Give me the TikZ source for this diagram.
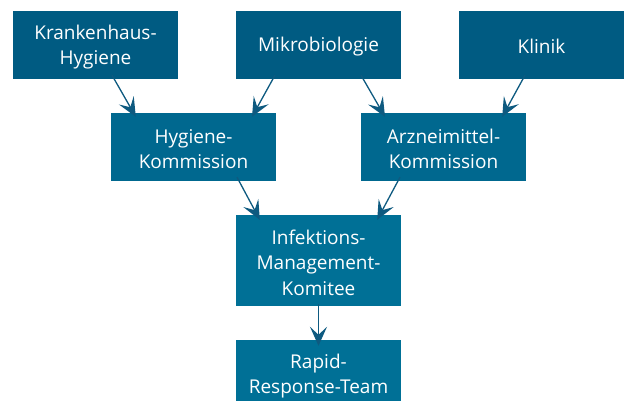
\documentclass[tikz,border=0pt]{standalone}
\usepackage{fontspec}
\setmainfont{Open Sans}
\usetikzlibrary{arrows.meta,calc}
\definecolor{boxA}{HTML}{005B82}
\definecolor{boxB}{HTML}{00688F}
\definecolor{boxC}{HTML}{007096}
\definecolor{arrc}{HTML}{0E5A80}
\begin{document}
\begin{tikzpicture}[x=1pt,y=-1pt,
  box/.style={rectangle, minimum width=165pt, minimum height=68pt, inner sep=0pt},
  txt/.style={text=white, align=center, inner sep=0pt, font=\fontsize{19}{25.5}\selectfont},
  arr/.style={draw=arrc, line width=1.3pt,
    -{Stealth[length=19pt,width=17pt,inset=8pt]}}]
\useasboundingbox (0,0) rectangle (627,401);
\begin{scope}
\clip (0,0) rectangle (627,401);
\node[box, fill=boxA] (kh) at (95.5,45) {};
\node[box, fill=boxA] (mb) at (318.5,45) {};
\node[box, fill=boxA] (kl) at (541.5,45) {};
\node[box, fill=boxB] (hk) at (193.5,147) {};
\node[box, fill=boxB] (ak) at (443.5,147) {};
\node[box, fill=boxC, minimum height=91pt] (imk) at (318.5,260.5) {};
\node[box, fill=boxC] (rrt) at (318.5,374) {};
\node[txt] (khT) at ([yshift=-2pt]kh.center) {Krankenhaus-\\Hygiene};
\node[txt] (mbT) at ([yshift=-1.5pt]mb.center) {Mikrobiologie};
\node[txt] (klT) at ([yshift=-1.5pt]kl.center) {Klinik};
\node[txt] (hkT) at ([yshift=-2pt]hk.center) {Hygiene-\\Kommission};
\node[txt] (akT) at ([yshift=-2pt]ak.center) {Arzneimittel-\\Kommission};
\node[txt] (imkT) at ([yshift=-2pt]imk.center) {Infektions-\\Management-\\Komitee};
\node[txt] (rrtT) at ([yshift=-2pt]rrt.center) {Rapid-\\Response-Team};
\end{scope}
\draw[arr] ([xshift=16.5pt,yshift=4pt]kh.south) -- ([xshift=25pt,yshift=-4pt]hk.north west);
\draw[arr] ([xshift=-43.5pt,yshift=4pt]mb.south) -- ([xshift=58.5pt,yshift=-4pt]hk.north);
\draw[arr] ([xshift=42.5pt,yshift=4pt]mb.south) -- ([xshift=-58.5pt,yshift=-4pt]ak.north);
\draw[arr] ([xshift=-16.5pt,yshift=4pt]kl.south) -- ([xshift=-24pt,yshift=-4pt]ak.north east);
\draw[arr] ([xshift=43.5pt,yshift=4pt]hk.south) -- ([xshift=24pt,yshift=-5pt]imk.north west);
\draw[arr] ([xshift=-43.5pt,yshift=4pt]ak.south) -- ([xshift=-24pt,yshift=-5pt]imk.north east);
\draw[arr] ([yshift=2pt]imk.south) -- ([yshift=-6pt]rrt.north);
\end{tikzpicture}
\end{document}
